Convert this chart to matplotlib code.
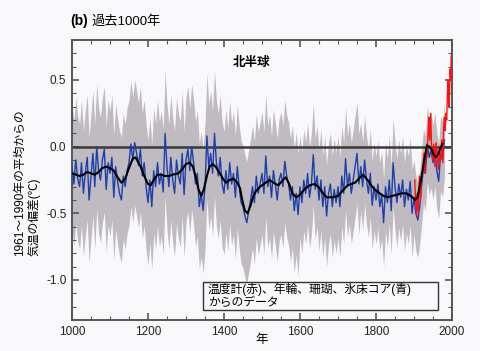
import matplotlib
matplotlib.use('Agg')
import matplotlib.pyplot as plt
import numpy as np
from matplotlib.ticker import MultipleLocator, FormatStrFormatter
from matplotlib.patches import Rectangle

plt.rcParams['font.family'] = ['Liberation Sans', 'Noto Sans CJK JP', 'DejaVu Sans']
plt.rcParams['axes.unicode_minus'] = False

# 代替データ (年輪・珊瑚・氷床コア), 5年ごと 1000-1980
proxy_years = np.arange(1000, 1981, 5)
proxy_vals = [
    -0.15, -0.28, -0.10, -0.24, -0.30, -0.12, -0.35, -0.20, -0.08, -0.40,
    -0.22, -0.05, -0.30, 0.00, -0.18, -0.25, -0.10, -0.02, -0.32, -0.12,
    -0.20, -0.08, -0.38, -0.15, -0.26, -0.35, -0.40, -0.22, -0.30, -0.18,
    -0.12, 0.02, -0.10, 0.03, -0.05, -0.14, -0.02, -0.22, -0.12, -0.30,
    -0.42, -0.25, -0.45, -0.18, -0.30, -0.12, -0.28, -0.20, -0.34, 0.10,
    -0.15, -0.30, -0.08, -0.25, -0.35, -0.10, -0.22, -0.28, -0.05, -0.36,
    -0.10, -0.02, -0.18, 0.00, -0.12, -0.28, -0.20, -0.45, -0.35, -0.48,
    -0.30, 0.08, -0.15, -0.05, -0.20, 0.10, -0.12, -0.22, -0.08, -0.28,
    -0.35, -0.18, -0.32, -0.12, -0.28, -0.20, -0.38, -0.15, -0.30, -0.42,
    -0.45, -0.52, -0.57, -0.48, -0.40, -0.30, -0.42, -0.22, -0.35, -0.28,
    -0.20, -0.35, -0.07, -0.30, -0.22, -0.38, -0.18, -0.28, -0.40, -0.25,
    -0.20, -0.30, -0.11, -0.22, -0.28, -0.40, -0.30, -0.48, -0.35, -0.51,
    -0.30, -0.42, -0.25, -0.35, -0.20, -0.38, -0.28, -0.06, -0.32, -0.22,
    -0.40, -0.25, -0.45, -0.30, -0.52, -0.35, -0.28, -0.45, -0.32, -0.42,
    -0.30, -0.45, -0.22, -0.35, -0.09, -0.30, -0.20, -0.35, -0.25, -0.15,
    -0.05, -0.28, -0.15, -0.30, -0.10, -0.25, -0.35, -0.20, -0.44, -0.30,
    -0.40, -0.28, -0.45, -0.36, -0.57, -0.30, -0.42, -0.25, -0.48, -0.12,
    -0.30, -0.42, -0.28, -0.38, -0.25, -0.45, -0.32, -0.40, -0.26, -0.50,
    -0.38, -0.50, -0.55, -0.45, -0.30, -0.15, -0.20, 0.02, -0.08, -0.03,
    -0.12, -0.02, -0.18, -0.26, -0.05, -0.10, 0.05,
]

# 不確実性の幅 (期間ごとの半幅)
unc_start = [1000, 1400, 1600, 1760, 1900]
unc_half = [0.47, 0.46, 0.38, 0.33, 0.28]

# 平滑化曲線 (黒)
smooth_years = [1000, 1010, 1020, 1030, 1040, 1050, 1060, 1070, 1080, 1090,
                1100, 1110, 1120, 1130, 1140, 1150, 1160, 1167, 1175, 1182,
                1190, 1200, 1207, 1215, 1225, 1235, 1245, 1255, 1265, 1280,
                1290, 1300, 1310, 1318, 1325, 1333, 1340, 1347, 1355, 1362,
                1370, 1378, 1387, 1397, 1405, 1415, 1425, 1435, 1442, 1448,
                1455, 1462, 1470, 1477, 1485, 1495, 1505, 1520, 1530, 1543,
                1552, 1562, 1570, 1580, 1590, 1600, 1612, 1625, 1638, 1648,
                1658, 1670, 1685, 1700, 1712, 1725, 1735, 1745, 1755, 1766,
                1778, 1790, 1800, 1810, 1820, 1830, 1842, 1855, 1867, 1880,
                1892, 1903, 1909, 1915, 1920, 1927, 1934, 1940, 1946, 1952,
                1958, 1963, 1968, 1975]
smooth_vals = [-0.20, -0.21, -0.22, -0.21, -0.19, -0.20, -0.21, -0.19, -0.16, -0.15,
               -0.16, -0.18, -0.23, -0.27, -0.24, -0.16, -0.09, -0.08, -0.12, -0.16,
               -0.22, -0.28, -0.29, -0.25, -0.21, -0.21, -0.22, -0.22, -0.21, -0.20,
               -0.17, -0.13, -0.12, -0.15, -0.22, -0.32, -0.37, -0.32, -0.22, -0.15,
               -0.13, -0.15, -0.19, -0.24, -0.27, -0.25, -0.24, -0.27, -0.31, -0.40,
               -0.48, -0.50, -0.44, -0.37, -0.33, -0.30, -0.28, -0.25, -0.27, -0.29,
               -0.26, -0.23, -0.27, -0.35, -0.38, -0.36, -0.32, -0.29, -0.28, -0.30,
               -0.34, -0.38, -0.38, -0.37, -0.33, -0.29, -0.28, -0.27, -0.24, -0.21,
               -0.25, -0.30, -0.33, -0.35, -0.37, -0.38, -0.37, -0.36, -0.35, -0.35,
               -0.37, -0.40, -0.38, -0.30, -0.22, -0.10, 0.01, 0.00, -0.02, -0.06,
               -0.08, -0.06, -0.02, 0.02]

# 温度計 (赤)
inst_years = [1902, 1904, 1907, 1909, 1911, 1914, 1917, 1920, 1923, 1926,
              1929, 1931, 1934, 1937, 1939, 1941, 1944, 1946, 1949, 1952,
              1955, 1958, 1961, 1964, 1967, 1970, 1973, 1976, 1978, 1980,
              1982, 1984, 1986, 1988, 1990, 1992, 1994, 1995, 1997, 1998]
inst_vals = [-0.25, -0.40, -0.52, -0.35, -0.48, -0.22, -0.40, -0.25, -0.18, -0.05,
             -0.20, 0.00, -0.08, 0.10, 0.22, 0.05, 0.25, 0.00, -0.10, 0.02,
             -0.15, 0.03, -0.05, -0.17, -0.05, -0.10, 0.05, -0.12, 0.15, 0.22,
             0.12, 0.25, 0.20, 0.40, 0.50, 0.30, 0.45, 0.58, 0.50, 0.68]

bg = '#f8f7f9'
fig = plt.figure(figsize=(4.8, 3.51), dpi=100, facecolor=bg)
ax = fig.add_axes([72/480, 1-320/351, 380/480, 280/351], facecolor=bg)

pv = np.array(proxy_vals)
hw = np.array(unc_half)[np.searchsorted(unc_start, proxy_years, side='right') - 1]
ax.fill_between(proxy_years, pv - hw, pv + hw, color='#bfbbc0', lw=0, zorder=1)
ax.axhline(0, color='#3a3a3a', lw=1.8, zorder=2)
ax.plot(proxy_years, pv, color='#1d3fa8', lw=1.0, zorder=3)
ax.plot(inst_years, inst_vals, color='#ff1010', lw=1.0, zorder=4)
ax.plot(smooth_years, smooth_vals, color='black', lw=1.5, zorder=5,
        solid_joinstyle='round')

ax.set_xlim(1000, 2000)
ax.set_ylim(-1.3, 0.8)
ax.xaxis.set_major_locator(MultipleLocator(200))
ax.xaxis.set_minor_locator(MultipleLocator(50))
ax.yaxis.set_major_locator(MultipleLocator(0.5))
ax.yaxis.set_minor_locator(MultipleLocator(0.1))
ax.yaxis.set_major_formatter(FormatStrFormatter('%.1f'))
ax.tick_params(which='both', direction='in', top=True, right=True,
               color='#555555', labelsize=8.5, labelcolor='#222222')
ax.tick_params(which='major', length=5, width=1.2, pad=4)
ax.tick_params(which='minor', length=3, width=0.8)
for s in ax.spines.values():
    s.set_color('#555555')
    s.set_linewidth(1.4)

ax.text(1000 + (251-72)/0.38, 0.63, '北半球', fontsize=9, ha='center', va='center',
        fontweight='bold')

# 凡例の箱
x0 = 1000 + (203-72)/0.38
x1 = 1000 + (438-72)/0.38
y_top = (147-283)/134
y_bot = (147-311)/134
ax.add_patch(Rectangle((x0, y_bot), x1 - x0, y_top - y_bot, facecolor=bg,
                       edgecolor='#333333', lw=1.0, zorder=6))
ax.text(x0 + 12, (y_top + y_bot)/2, '温度計(赤)、年輪、珊瑚、氷床コア(青)\nからのデータ',
        fontsize=8.5, ha='left', va='center', linespacing=1.05, zorder=7)

fig.text(70/480, 1-21/351, '(b)', fontsize=10, fontweight='bold', ha='left', va='center')
fig.text(92/480, 1-21/351, '過去1000年', fontsize=9.5, ha='left', va='center')
fig.text(27/480, 1-256/351, '1961～1990年の平均からの\n気温の偏差(℃)', fontsize=8.5,
         rotation=90, ha='center', va='bottom', multialignment='left', linespacing=1.15)
fig.text(262/480, 1-340/351, '年', fontsize=9, ha='center', va='center')

fig.savefig('out.png', dpi=100, facecolor=bg)
